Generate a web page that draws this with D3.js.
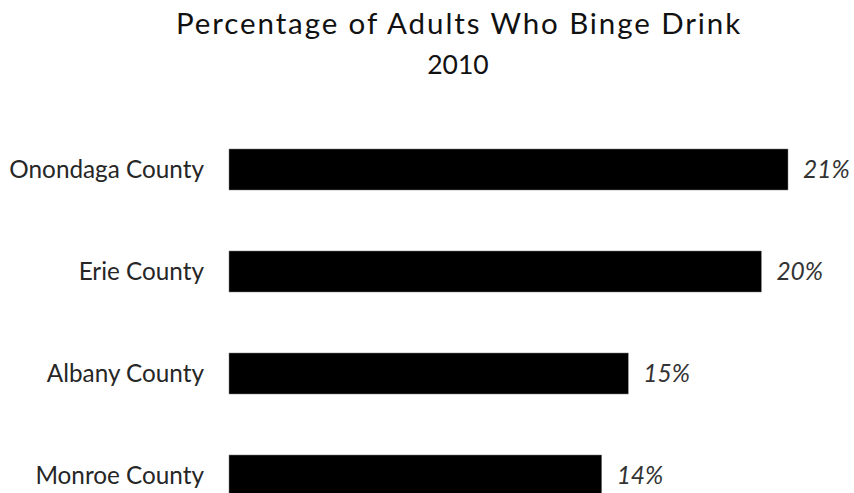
<!DOCTYPE html>
<html>
<head>
<meta charset="utf-8">
<script src="https://cdn.jsdelivr.net/npm/d3@7"></script>
<style>
  html, body { margin: 0; padding: 0; background: #fff; }
  svg { display: block; }
</style>
</head>
<body>
<svg id="chart" width="854" height="493"></svg>
<script>
const titleLines = ["Percentage of Adults Who Binge Drink", "2010"];
const categories = ["Onondaga County", "Erie County", "Albany County", "Monroe County"];
const values = [21, 20, 15, 14];
const valueLabels = ["21%", "20%", "15%", "14%"];

const W = 854, H = 493;
const svg = d3.select("#chart");
const font = "Lato, 'Open Sans', sans-serif";

const x = d3.scaleLinear().domain([0, 21]).range([229, 788]);
const y = d3.scaleBand().domain(categories).range([118.5, 526.5])
  .paddingInner(0.598).paddingOuter(0.299);

// title
svg.append("text")
  .attr("x", 459).attr("y", 34)
  .attr("text-anchor", "middle")
  .attr("font-family", font).attr("font-size", 29.5)
  .attr("letter-spacing", 1.9)
  .attr("fill", "#111")
  .text(titleLines[0]);
svg.append("text")
  .attr("x", 458).attr("y", 74)
  .attr("text-anchor", "middle")
  .attr("font-family", font).attr("font-size", 26.5)
  .attr("fill", "#111")
  .text(titleLines[1]);

const data = categories.map((c, i) => ({ c, v: values[i], l: valueLabels[i] }));

// bars
svg.append("g").selectAll("rect").data(data).join("rect")
  .attr("x", x(0))
  .attr("y", d => y(d.c))
  .attr("width", d => x(d.v) - x(0))
  .attr("height", y.bandwidth())
  .attr("fill", "#000")
  .attr("stroke", "#7f7f7f")
  .attr("stroke-width", 0.5);

// category axis (no line/ticks)
const yAxis = d3.axisLeft(y).tickSize(0).tickPadding(0);
const gy = svg.append("g").attr("transform", "translate(204,0)").call(yAxis);
gy.select(".domain").remove();
gy.selectAll("text")
  .attr("font-family", font).attr("font-size", 24.3)
  .attr("fill", "#262626")
  .attr("dy", "0.35em");

// value labels
svg.append("g").selectAll("text").data(data).join("text")
  .attr("x", d => x(d.v) + 15)
  .attr("y", d => y(d.c) + y.bandwidth() / 2)
  .attr("dy", "0.35em")
  .attr("font-family", font).attr("font-size", 24.5)
  .attr("font-style", "italic")
  .attr("fill", "#333")
  .text(d => d.l);
</script>
</body>
</html>
